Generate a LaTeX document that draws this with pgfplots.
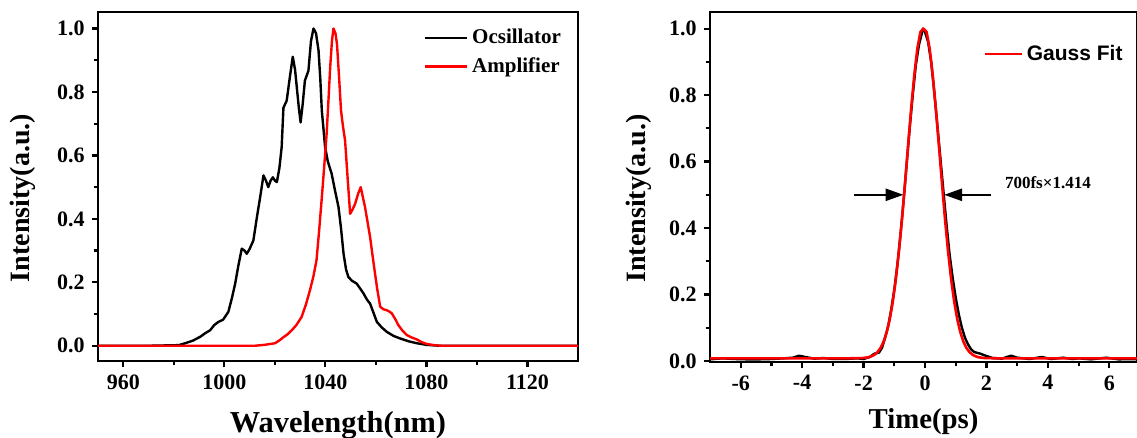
\documentclass[border=0pt]{standalone}
\usepackage{fontspec}
\setmainfont{Liberation Serif}
\setsansfont{Liberation Sans}
\usepackage{pgfplots}
\pgfplotsset{compat=1.18}
\usetikzlibrary{arrows.meta}
\pgfplotsset{
  myaxis/.style={
    scale only axis,
    axis line style={line width=1.3pt},
    tick align=outside,
    tick pos=left,
    major tick length=3.2pt,
    minor tick length=2.2pt,
    every tick/.style={line width=1.1pt,black},
    /pgf/number format/assume math mode=true,
    tick label style={font=\bfseries\fontsize{11}{12}\selectfont},
    xticklabel style={/pgf/number format/1000 sep={}},
    label style={font=\bfseries\fontsize{14}{16}\selectfont},
    ytick={0,0.2,0.4,0.6,0.8,1.0},
    minor y tick num=1,
    yticklabel style={/pgf/number format/.cd,fixed,fixed zerofill,precision=1},
    legend cell align=left,
    legend style={draw=none,fill=none,row sep=1.5pt},
  }
}
\begin{document}
\begin{tikzpicture}
\path[use as bounding box] (0,0) rectangle (568.5pt,-219pt);
% ---------------- left panel ----------------
\begin{axis}[myaxis,
  at={(49pt,-180.5pt)}, anchor=south west,
  width=240pt, height=174.5pt,
  xmin=950, xmax=1140, ymin=-0.048, ymax=1.052,
  xtick={960,1000,1040,1080,1120}, minor x tick num=1,
  xlabel={Wavelength(nm)}, ylabel={Intensity(a.u.)},
  xlabel style={at={(axis description cs:0.5,0)},anchor=base,yshift=-35.5pt,
    font=\bfseries\fontsize{15.2}{17}\selectfont},
  ylabel style={at={(axis description cs:-0.156,0.467)},anchor=center},
  legend image code/.code={\draw[#1,line width=1.3pt] (0pt,0pt) -- (21pt,0pt);},
  legend style={at={(axis description cs:0.665,0.975)},anchor=north west,
    font=\bfseries\fontsize{10.5}{12}\selectfont},
]
\addplot[black,line width=1.2pt,line join=round] coordinates {
(950,0) (970,0) (982,0.002) (984.5,0.008) (987.5,0.016) (990.4,0.028) (992.5,0.040)
(994.4,0.049) (996,0.065) (997.6,0.075) (999.5,0.082) (1001.6,0.107) (1003,0.15)
(1004.3,0.196) (1005.5,0.25) (1006.9,0.306) (1008,0.30) (1008.9,0.29) (1010,0.305)
(1011.5,0.332) (1013,0.41) (1014.2,0.469) (1015.5,0.537) (1016.5,0.52) (1017.4,0.50)
(1018.3,0.52) (1019.2,0.531) (1020.1,0.52) (1020.8,0.516) (1021.8,0.56) (1022.7,0.626)
(1023.4,0.75) (1024.7,0.773) (1026,0.85) (1027.1,0.911) (1028,0.87) (1028.7,0.814)
(1029.5,0.75) (1030.2,0.704) (1031,0.76) (1031.9,0.836) (1033.3,0.867) (1034.3,0.96)
(1035.3,1.0) (1036.3,0.985) (1037.3,0.93) (1038,0.84) (1038.6,0.741) (1039.9,0.626)
(1041,0.58) (1042.5,0.542) (1043.8,0.49) (1045.2,0.437) (1046.2,0.37) (1047.2,0.29)
(1048.2,0.24) (1049.1,0.217) (1050.5,0.205) (1052.4,0.196) (1053.8,0.18) (1055.1,0.165)
(1056.5,0.145) (1057.7,0.133) (1059,0.105) (1060.4,0.075) (1062.3,0.058) (1064.3,0.044)
(1067,0.031) (1069.6,0.023) (1073,0.014) (1076.2,0.008) (1080,0.003) (1085,0) (1140,0)
};
\addlegendentry{Ocsillator}
\addplot[red,line width=1.2pt,line join=round] coordinates {
(950,0) (1012,0) (1016,0.003) (1020.1,0.008) (1022,0.018) (1023.4,0.027) (1025,0.036)
(1026.7,0.049) (1028.5,0.065) (1030.6,0.091) (1032.3,0.13) (1033.9,0.175) (1035.3,0.22)
(1036.5,0.27) (1037.5,0.36) (1038.5,0.458) (1039.5,0.56) (1040.5,0.668) (1041.2,0.77)
(1041.9,0.877) (1042.6,0.96) (1043.2,1.0) (1044,0.985) (1044.6,0.951) (1045.4,0.85)
(1046.2,0.741) (1047,0.69) (1047.8,0.647) (1048.8,0.53) (1049.8,0.416) (1050.8,0.43)
(1051.8,0.448) (1053,0.48) (1054,0.50) (1054.8,0.47) (1055.7,0.437) (1056.7,0.39)
(1057.7,0.343) (1058.5,0.295) (1059.3,0.248) (1060.5,0.18) (1061.7,0.123) (1063,0.115)
(1064.3,0.112) (1065.3,0.108) (1066.3,0.102) (1067.6,0.085) (1068.9,0.065) (1070.5,0.048)
(1072.2,0.034) (1074.2,0.026) (1076.2,0.02) (1078,0.012) (1080,0.006) (1083,0.002)
(1086,0) (1140,0)
};
\addlegendentry{Amplifier}
\end{axis}
% ---------------- right panel ----------------
\begin{axis}[myaxis,
  at={(355pt,-181pt)}, anchor=south west,
  width=213.5pt, height=175pt,
  xmin=-7, xmax=6.9, ymin=-0.003, ymax=1.05,
  xtick={-6,-4,-2,0,2,4,6}, minor x tick num=1,
  xlabel={Time(ps)}, ylabel={Intensity(a.u.)},
  xlabel style={at={(axis description cs:0.5,0)},anchor=base,yshift=-33pt,
    font=\bfseries\fontsize{14.4}{16}\selectfont},
  ylabel style={at={(axis description cs:-0.166,0.467)},anchor=center},
  legend image code/.code={\draw[#1,line width=1.3pt] (0pt,0pt) -- (18.5pt,0pt);},
  legend style={at={(axis description cs:0.625,0.88)},anchor=west,
    font=\sffamily\bfseries\fontsize{10.5}{12}\selectfont},
]
\addplot[black,line width=1.2pt,line join=round,forget plot] coordinates {
(-7,0.005) (-6.6,0.008) (-6.2,0.006) (-5.8,0.005) (-5.4,0.005) (-5,0.006) (-4.6,0.008)
(-4.3,0.01) (-4.1,0.016) (-3.9,0.012) (-3.6,0.007) (-3.3,0.009) (-3,0.006) (-2.6,0.006)
(-2.2,0.008) (-2,0.006) (-1.8,0.012) (-1.65,0.022) (-1.5,0.025) (-1.4,0.04) (-1.3,0.07)
(-1.2,0.105) (-1.1,0.155) (-1.0,0.215) (-0.9,0.29) (-0.8,0.38) (-0.7,0.48) (-0.6,0.59)
(-0.5,0.70) (-0.4,0.80) (-0.3,0.89) (-0.2,0.95) (-0.12,0.98) (-0.07,1.0) (0.0,0.99)
(0.1,0.96) (0.2,0.90) (0.3,0.81) (0.4,0.71) (0.5,0.61) (0.6,0.51) (0.7,0.41) (0.8,0.32)
(0.9,0.25) (1.0,0.19) (1.1,0.14) (1.2,0.10) (1.3,0.07) (1.4,0.05) (1.5,0.035)
(1.6,0.027) (1.8,0.022) (2.0,0.015) (2.2,0.009) (2.5,0.007) (2.8,0.016) (3.0,0.01)
(3.4,0.006) (3.8,0.012) (4.1,0.006) (4.5,0.01) (4.8,0.006) (5.0,0.008) (5.4,0.005)
(5.9,0.01) (6.3,0.005) (7,0.006)
};
\addplot[red,line width=1.3pt,line join=round] coordinates {
(-7,0.008) (-2.5,0.008) (-2.05,0.0088) (-1.85,0.011) (-1.75,0.014) (-1.65,0.0187)
(-1.55,0.0265) (-1.45,0.039) (-1.35,0.058) (-1.25,0.086) (-1.15,0.125) (-1.05,0.178)
(-0.95,0.246) (-0.85,0.329) (-0.75,0.427) (-0.65,0.536) (-0.55,0.650) (-0.45,0.761)
(-0.35,0.860) (-0.25,0.940) (-0.15,0.990) (-0.05,1.0) (0.05,0.990) (0.15,0.940)
(0.25,0.860) (0.35,0.761) (0.45,0.650) (0.55,0.536) (0.65,0.427) (0.75,0.329)
(0.85,0.246) (0.95,0.178) (1.05,0.125) (1.15,0.086) (1.25,0.058) (1.35,0.039)
(1.45,0.0265) (1.55,0.0187) (1.65,0.014) (1.75,0.011) (1.95,0.0088) (2.4,0.008) (7,0.008)
};
\addlegendentry{Gauss Fit}
\draw[line width=1.3pt,-{Triangle[length=9pt,width=6pt]}] (axis cs:-2.3,0.5) -- (axis cs:-0.7,0.5);
\draw[line width=1.3pt,-{Triangle[length=9pt,width=6pt]}] (axis cs:2.15,0.5) -- (axis cs:0.62,0.5);
\node[font=\bfseries\fontsize{8.5}{10}\selectfont] at (axis cs:4.0,0.536) {700fs×1.414};
\end{axis}
\end{tikzpicture}
\end{document}
